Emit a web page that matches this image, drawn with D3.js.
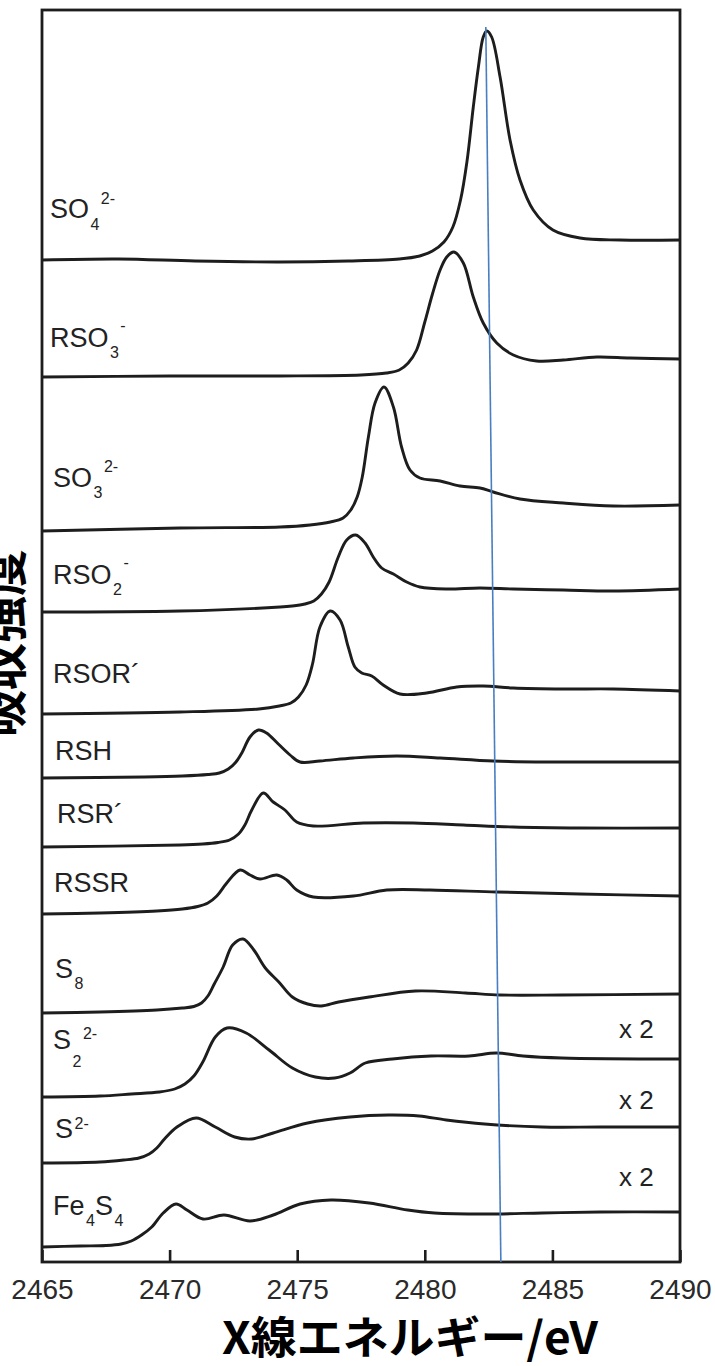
<!DOCTYPE html>
<html>
<head>
<meta charset="utf-8">
<script src="https://cdn.jsdelivr.net/npm/d3@7"></script>
<style>
  body { margin: 0; background: #fff; }
</style>
</head>
<body>
<div class="canvas"></div>
<script>
// S K-edge XANES spectra, [energy eV, intensity a.u. incl. stacking offset]
const so4 = [[2465.0, 10.02], [2468.0, 10.03], [2471.0, 10.01], [2474.3, 10.00], [2477.0, 10.01], [2479.0, 10.03],
  [2479.8, 10.06], [2480.3, 10.11], [2480.75, 10.20], [2481.1, 10.35], [2481.4, 10.62], [2481.65, 11.0],
  [2481.9, 11.55], [2482.1, 11.95], [2482.29, 12.25], [2482.43, 12.31], [2482.62, 12.25], [2482.95, 11.85],
  [2483.34, 11.22], [2483.73, 10.82], [2484.25, 10.52], [2485.02, 10.32], [2486.08, 10.24], [2487.65, 10.22],
  [2490.0, 10.22]];
const rso3 = [[2465.0, 8.85], [2470.0, 8.86], [2474.3, 8.86], [2477.5, 8.87], [2478.5, 8.89], [2479.0, 8.92],
  [2479.35, 8.99], [2479.68, 9.12], [2480.0, 9.40], [2480.3, 9.68], [2480.6, 9.92], [2480.86, 10.05],
  [2481.14, 10.10], [2481.51, 9.99], [2481.9, 9.65], [2482.29, 9.39], [2482.82, 9.19], [2483.47, 9.07],
  [2484.38, 9.01], [2485.43, 9.02], [2486.74, 9.05], [2488.04, 9.04], [2490.0, 9.03]];
const so3 = [[2465.0, 7.31], [2470.41, 7.34], [2474.33, 7.35], [2475.5, 7.37], [2476.3, 7.40], [2476.8, 7.44],
  [2477.1, 7.52], [2477.35, 7.65], [2477.55, 7.85], [2477.79, 8.25], [2478.05, 8.59], [2478.4, 8.75],
  [2478.77, 8.55], [2479.09, 8.15], [2479.42, 7.92], [2479.81, 7.84], [2480.6, 7.81], [2481.38, 7.76],
  [2482.16, 7.74], [2482.68, 7.70], [2483.73, 7.63], [2485.43, 7.59], [2487.39, 7.56], [2490.0, 7.57]];
const rso2 = [[2465.0, 6.50], [2470.41, 6.51], [2474.33, 6.55], [2474.8, 6.56], [2475.3, 6.58], [2475.65, 6.61],
  [2475.95, 6.68], [2476.25, 6.80], [2476.61, 7.05], [2476.94, 7.22], [2477.29, 7.27], [2477.66, 7.19],
  [2477.98, 7.05], [2478.31, 6.94], [2478.77, 6.88], [2479.29, 6.80], [2479.81, 6.75], [2480.86, 6.73],
  [2482.16, 6.74], [2483.47, 6.73], [2485.43, 6.72], [2487.39, 6.71], [2490.0, 6.73]];
const rsor = [[2465.0, 5.48], [2470.41, 5.50], [2473.5, 5.53], [2474.3, 5.56], [2474.75, 5.59], [2475.05, 5.65],
  [2475.35, 5.77], [2475.6, 5.98], [2475.89, 6.35], [2476.29, 6.51], [2476.68, 6.42], [2477.0, 6.15],
  [2477.26, 5.95], [2477.53, 5.89], [2477.92, 5.86], [2478.37, 5.77], [2479.03, 5.68], [2480.07, 5.69],
  [2481.25, 5.75], [2482.29, 5.76], [2483.47, 5.74], [2485.43, 5.73], [2487.39, 5.73], [2490.0, 5.71]];
const rsh = [[2465.0, 4.84], [2469.0, 4.85], [2470.5, 4.86], [2471.5, 4.875], [2471.95, 4.89], [2472.3, 4.93],
  [2472.6, 5.0], [2472.83, 5.09], [2473.15, 5.25], [2473.48, 5.32], [2473.8, 5.29], [2474.26, 5.18],
  [2474.72, 5.07], [2475.11, 5.00], [2475.89, 5.01], [2477.2, 5.04], [2478.9, 5.06], [2480.6, 5.04],
  [2482.68, 5.01], [2484.78, 5.00], [2487.39, 5.00], [2490.0, 5.00]];
const rsr = [[2465.0, 4.15], [2470.41, 4.17], [2471.3, 4.18], [2471.9, 4.195], [2472.35, 4.22], [2472.7, 4.28],
  [2472.95, 4.37], [2473.22, 4.52], [2473.67, 4.69], [2474.06, 4.60], [2474.52, 4.52], [2474.98, 4.40],
  [2475.63, 4.36], [2477.59, 4.39], [2479.55, 4.39], [2481.51, 4.37], [2483.47, 4.35], [2486.08, 4.34],
  [2490.0, 4.34]];
const rssr = [[2465.0, 3.48], [2467.27, 3.49], [2469.5, 3.51], [2470.5, 3.53], [2471.1, 3.555], [2471.5, 3.59],
  [2471.85, 3.66], [2472.24, 3.79], [2472.76, 3.92], [2473.15, 3.87], [2473.54, 3.83], [2474.2, 3.87],
  [2474.59, 3.82], [2474.98, 3.72], [2475.63, 3.65], [2477.2, 3.66], [2478.51, 3.72], [2480.2, 3.72],
  [2482.82, 3.70], [2486.08, 3.68], [2490.0, 3.66]];
const s8 = [[2465.0, 2.49], [2467.27, 2.50], [2469.5, 2.52], [2470.5, 2.54], [2470.95, 2.555], [2471.25, 2.59],
  [2471.5, 2.66], [2471.75, 2.78], [2472.1, 2.95], [2472.47, 3.17], [2472.88, 3.23], [2473.3, 3.12],
  [2473.75, 2.94], [2474.28, 2.80], [2474.81, 2.65], [2475.41, 2.58], [2475.94, 2.56], [2476.62, 2.60],
  [2477.82, 2.65], [2479.63, 2.71], [2481.59, 2.69], [2482.95, 2.67], [2485.36, 2.67], [2490.0, 2.68]];
const s22 = [[2465.0, 1.65], [2467.27, 1.66], [2468.5, 1.68], [2469.6, 1.70], [2470.2, 1.73], [2470.6, 1.78],
  [2470.95, 1.86], [2471.3, 2.0], [2471.79, 2.25], [2472.25, 2.34], [2473.0, 2.29], [2473.9, 2.12],
  [2474.81, 1.94], [2475.71, 1.85], [2476.47, 1.84], [2477.07, 1.89], [2477.67, 1.99], [2478.73, 2.03],
  [2480.24, 2.06], [2481.74, 2.06], [2482.8, 2.09], [2483.85, 2.06], [2485.36, 2.04], [2490.0, 2.03]];
const s2 = [[2465.0, 0.99], [2467.27, 1.00], [2468.2, 1.02], [2468.8, 1.04], [2469.2, 1.08], [2469.5, 1.14],
  [2469.8, 1.23], [2470.29, 1.35], [2471.04, 1.44], [2471.79, 1.35], [2472.55, 1.25], [2473.22, 1.23],
  [2474.06, 1.29], [2475.41, 1.39], [2477.07, 1.45], [2478.58, 1.47], [2479.78, 1.46], [2480.84, 1.42],
  [2482.34, 1.38], [2484.6, 1.35], [2486.87, 1.35], [2490.0, 1.35]];
const fe4s4 = [[2465.0, 0.15], [2466.5, 0.16], [2467.5, 0.165], [2468.1, 0.18], [2468.5, 0.21], [2468.9, 0.27],
  [2469.3, 0.35], [2469.75, 0.49], [2470.25, 0.58], [2470.68, 0.52], [2471.31, 0.43], [2472.13, 0.47],
  [2473.15, 0.41], [2474.06, 0.47], [2475.11, 0.58], [2476.32, 0.62], [2477.82, 0.59], [2479.33, 0.52],
  [2480.38, 0.49], [2482.34, 0.48], [2484.6, 0.49], [2486.87, 0.50], [2490.0, 0.50]];

const spectra = [so4, rso3, so3, rso2, rsor, rsh, rsr, rssr, s8, s22, s2, fe4s4];

// species names: [text, '' | 'sub' | 'sup']
const names = [
  [['SO', ''], ['4', 'sub'], ['2-', 'sup']],
  [['RSO', ''], ['3', 'sub'], ['-', 'sup']],
  [['SO', ''], ['3', 'sub'], ['2-', 'sup']],
  [['RSO', ''], ['2', 'sub'], ['-', 'sup']],
  [['RSOR\u00b4', '']],
  [['RSH', '']],
  [['RSR\u00b4', '']],
  [['RSSR', '']],
  [['S', ''], ['8', 'sub']],
  [['S', ''], ['2', 'sub'], ['2-', 'sup']],
  [['S', ''], ['2-', 'sup']],
  [['Fe', ''], ['4', 'sub'], ['S', ''], ['4', 'sub']]
];

const energyTicks = [2465, 2470, 2475, 2480, 2485, 2490];
const scaleNotes = ['x 2', 'x 2', 'x 2'];
// reference line through the SO4 white line
const markerLine = [[2482.39, 12.35], [2482.98, 0]];

// label anchors (energy, intensity) and sub/sup baseline shifts in px
const labelLayout = [
  {e: 2465.31, v: 10.44, sub: 12, sup: -14},
  {e: 2465.31, v: 9.15, sub: 11, sup: -16},
  {e: 2465.43, v: 7.75, sub: 11, sup: -15},
  {e: 2465.43, v: 6.78, sub: 11, sup: -16},
  {e: 2465.43, v: 5.79},
  {e: 2465.51, v: 5.02},
  {e: 2465.59, v: 4.39},
  {e: 2465.47, v: 3.70},
  {e: 2465.51, v: 2.84, sub: 11},
  {e: 2465.43, v: 2.13, sub: 18, sup: -10},
  {e: 2465.51, v: 1.24, sup: -9},
  {e: 2465.43, v: 0.47, sub: 11}
];
const noteLayout = [{e: 2487.61, v: 2.24}, {e: 2487.61, v: 1.53}, {e: 2487.61, v: 0.76}];

const svg = d3.select('.canvas')
  .append('svg')
  .attr('width', 715)
  .attr('height', 1366);

const margin = {top: 10, right: 35, bottom: 104, left: 42};
const graphWidth = 715 - margin.left - margin.right;
const graphHeight = 1366 - margin.top - margin.bottom;

const graph = svg.append('g')
  .attr('transform', `translate(${margin.left}, ${margin.top})`);

const x = d3.scaleLinear().domain([2465, 2490]).range([0, graphWidth]);
const y = d3.scaleLinear().domain([0, 12.52]).range([graphHeight, 0]);

const line = d3.line()
  .x(d => x(d[0]))
  .y(d => y(d[1]))
  .curve(d3.curveCatmullRom.alpha(0.5));

// spectra
graph.selectAll('path.spec')
  .data(spectra)
  .enter()
  .append('path')
  .attr('class', 'spec')
  .attr('d', line)
  .attr('fill', 'none')
  .attr('stroke', '#1d1d1d')
  .attr('stroke-width', 2.9)
  .attr('stroke-linejoin', 'round');

// frame
graph.append('rect')
  .attr('width', graphWidth)
  .attr('height', graphHeight)
  .attr('fill', 'none')
  .attr('stroke', '#1d1d1d')
  .attr('stroke-width', 2.8);

// x axis, ticks pointing inward
const xAxisGroup = graph.append('g')
  .attr('transform', `translate(0, ${graphHeight})`)
  .call(d3.axisBottom(x).tickValues(energyTicks).tickSize(-12).tickPadding(17).tickFormat(d3.format('d')));
xAxisGroup.select('.domain').remove();
xAxisGroup.selectAll('line').attr('stroke', '#1d1d1d').attr('stroke-width', 2.6);
xAxisGroup.selectAll('text')
  .attr('fill', '#2a2a2a')
  .style('font-family', '"Liberation Sans", Arial, sans-serif')
  .style('font-size', '28px');

// blue guide line
graph.append('path')
  .attr('d', d3.line().x(d => x(d[0])).y(d => y(d[1]))(markerLine))
  .attr('stroke', '#4a7ec2')
  .attr('stroke-width', 1.6)
  .attr('fill', 'none');

// species labels
names.forEach((parts, i) => {
  const lay = labelLayout[i];
  const t = graph.append('text')
    .attr('x', x(lay.e))
    .attr('y', y(lay.v))
    .attr('fill', '#222')
    .style('font-family', '"Liberation Sans", Arial, sans-serif')
    .style('font-size', '27px');
  let cur = 0;
  parts.forEach(([txt, kind]) => {
    const target = kind === 'sub' ? lay.sub : kind === 'sup' ? lay.sup : 0;
    t.append('tspan')
      .attr('dy', target - cur)
      .attr('dx', kind ? 1.5 : 0)
      .style('font-size', kind ? '16px' : '27px')
      .text(txt);
    cur = target;
  });
});

// intensity scaling notes
graph.selectAll('text.note')
  .data(scaleNotes)
  .enter()
  .append('text')
  .attr('class', 'note')
  .attr('x', (d, i) => x(noteLayout[i].e))
  .attr('y', (d, i) => y(noteLayout[i].v))
  .attr('fill', '#222')
  .style('font-family', '"Liberation Sans", Arial, sans-serif')
  .style('font-size', '26px')
  .text(d => d);

// axis titles
svg.append('text')
  .attr('x', 410)
  .attr('y', 1354)
  .attr('text-anchor', 'middle')
  .attr('textLength', 376)
  .attr('lengthAdjust', 'spacingAndGlyphs')
  .style('font-family', '"Noto Sans CJK JP", sans-serif')
  .style('font-weight', 'bold')
  .style('font-size', '44px')
  .text('X線エネルギー/eV');

// partly outside the page on the left, as in the original figure
svg.append('text')
  .attr('transform', 'translate(0, 643) rotate(-90)')
  .attr('text-anchor', 'middle')
  .attr('dominant-baseline', 'central')
  .style('font-family', '"Noto Sans CJK JP", sans-serif')
  .style('font-weight', 'bold')
  .style('font-size', '47px')
  .text('吸収強度');
</script>
</body>
</html>
